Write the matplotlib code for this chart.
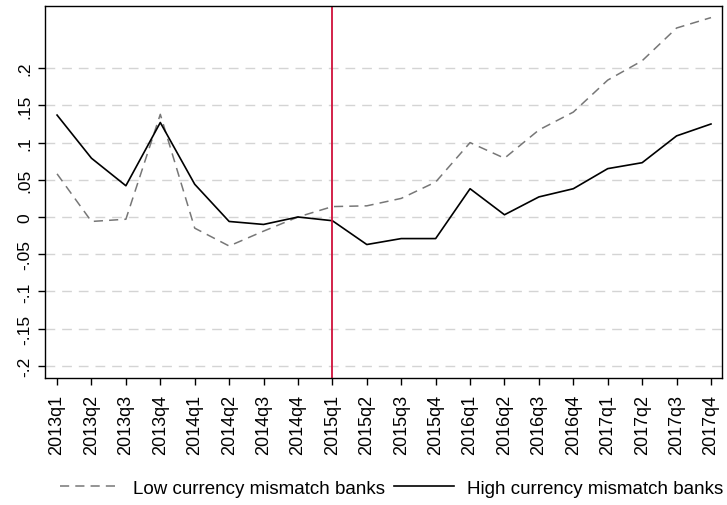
import numpy as np
import matplotlib
matplotlib.use("Agg")
import matplotlib.pyplot as plt

plt.rcParams['font.family'] = ['Liberation Sans', 'DejaVu Sans']

# quarters shown on the x axis
quarters = [f"{y}q{q}" for y in range(2013, 2018) for q in range(1, 5)]

# series
low_mismatch = [0.058, -0.006, -0.003, 0.138, -0.015, -0.039, -0.019, 0.000,
                0.014, 0.015, 0.025, 0.047, 0.100, 0.079, 0.117, 0.141,
                0.184, 0.210, 0.254, 0.268]
high_mismatch = [0.137, 0.079, 0.042, 0.127, 0.044, -0.006, -0.010, 0.000,
                 -0.005, -0.037, -0.029, -0.029, 0.038, 0.003, 0.027, 0.038,
                 0.065, 0.073, 0.109, 0.125]

y_ticks = [-0.2, -0.15, -0.1, -0.05, 0, 0.05, 0.1, 0.15, 0.2]
y_labels = ["-.2", "-.15", "-.1", "-.05", "0", ".05", ".1", ".15", ".2"]
event_quarter = "2015q1"

fig = plt.figure(figsize=(7.27, 5.06), dpi=100)
ax = fig.add_axes([45 / 727, 1 - 379 / 506, 677 / 727, 372 / 506])

x = np.arange(len(quarters))

# grid
for yt in y_ticks:
    ax.axhline(yt, color="#d4d4d4", lw=1.0, dashes=(7, 5), zorder=0)

ax.plot(x, low_mismatch, color="#777777", lw=1.1, dashes=(6, 4),
        label="Low currency mismatch banks")
ax.plot(x, high_mismatch, color="black", lw=1.2,
        label="High currency mismatch banks")
ax.axvline(quarters.index(event_quarter), color="#d0103a", lw=1.3)

ax.set_xlim(-0.35, len(quarters) - 1 + 0.32)
ax.set_ylim(-0.2164, 0.2836)

ax.set_xticks(x)
ax.set_xticklabels(quarters, rotation=90, fontsize=13)
ax.set_yticks(y_ticks)
ax.set_yticklabels(y_labels, rotation=90, va="center", fontsize=12.5)
ax.tick_params(direction="out", length=5, width=1, color="black")
ax.tick_params(axis="x", pad=6.5)
ax.tick_params(axis="y", pad=4)

for s in ax.spines.values():
    s.set_linewidth(1.0)
    s.set_color("black")

legend_size = 13.5
px = legend_size * 100 / 72
fig.legend(loc="center right", bbox_to_anchor=(723 / 727, 1 - 489 / 506),
           ncol=2, frameon=False, fontsize=legend_size,
           handlelength=60 / px, handletextpad=13 / px, columnspacing=9 / px,
           borderpad=0, borderaxespad=0)

fig.savefig("out.png", dpi=100)
